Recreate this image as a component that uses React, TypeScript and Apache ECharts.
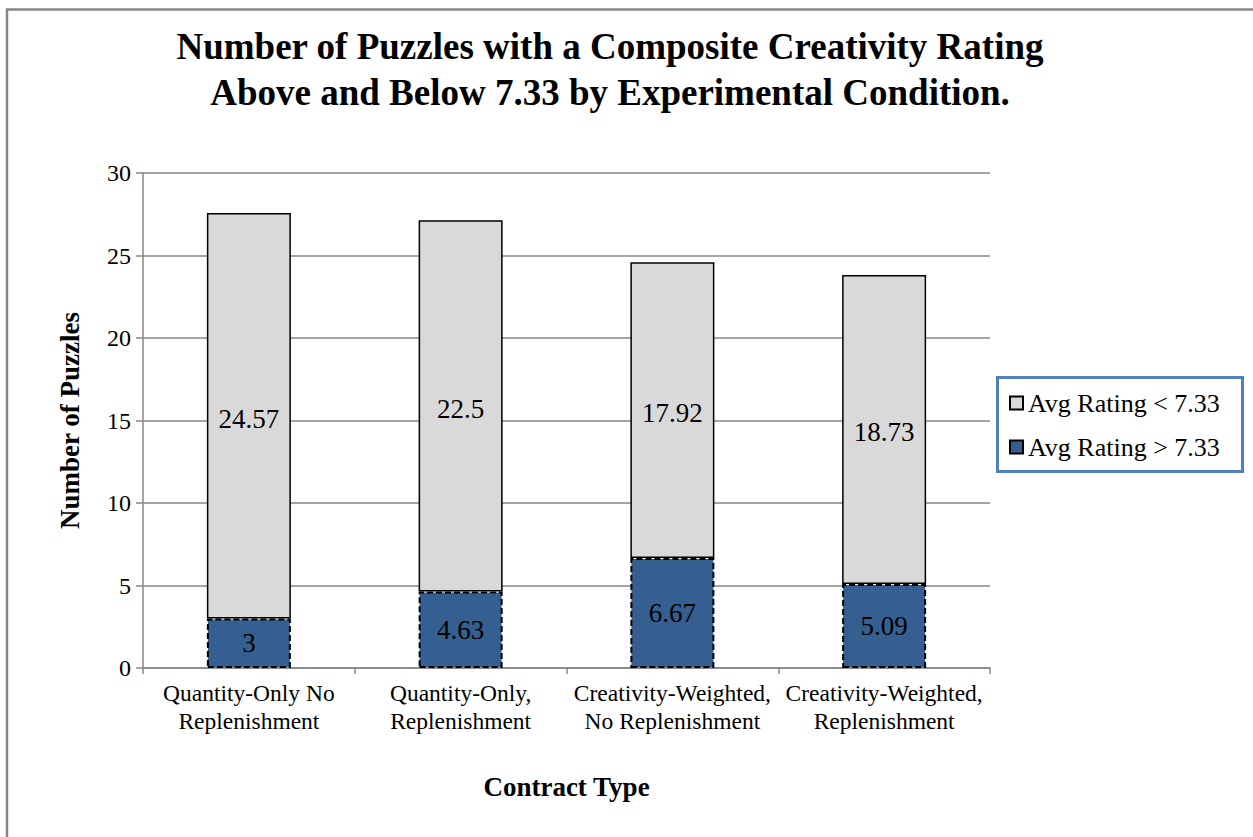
import React, { useEffect, useRef } from "react";
import * as echarts from "echarts";

const categories = [
  "Quantity-Only No\nReplenishment",
  "Quantity-Only,\nReplenishment",
  "Creativity-Weighted,\nNo Replenishment",
  "Creativity-Weighted,\nReplenishment",
];
const aboveValues = [3, 4.63, 6.67, 5.09];
const belowValues = [24.57, 22.5, 17.92, 18.73];
const aboveName = "Avg Rating > 7.33";
const belowName = "Avg Rating < 7.33";
const titleLines = [
  "Number of Puzzles with a Composite Creativity Rating",
  "Above and Below 7.33 by Experimental Condition.",
];

const FONT = "Liberation Serif";

export default function App() {
  const ref = useRef<HTMLDivElement>(null);
  useEffect(() => {
    if (!ref.current) return;
    const chart = echarts.init(ref.current, undefined, { renderer: "svg" });
    chart.setOption({
      animation: false,
      backgroundColor: "#ffffff",
      textStyle: { fontFamily: FONT, color: "#000" },
      graphic: [
        {
          type: "rect",
          shape: { x: 7, y: 9.5, width: 1300, height: 900 },
          style: { fill: "none", stroke: "#868686", lineWidth: 2.5 },
          z: 0,
        },
        {
          type: "text",
          x: 610,
          y: 23,
          style: {
            text: titleLines.join("\n"),
            fontFamily: FONT,
            fontSize: 37,
            fontWeight: "bold",
            lineHeight: 46,
            textAlign: "center",
            textVerticalAlign: "top",
            fill: "#000",
          },
        },
        {
          type: "rect",
          shape: { x: 997.5, y: 377.5, width: 245, height: 94 },
          style: { fill: "#fff", stroke: "#4f81bd", lineWidth: 3 },
          z: 1,
        },
      ],
      legend: {
        orient: "vertical",
        left: 1004,
        top: 385,
        itemGap: 18,
        itemWidth: 13,
        itemHeight: 13,
        icon: "rect",
        data: [belowName, aboveName],
        textStyle: { fontFamily: FONT, fontSize: 26, color: "#000" },
        z: 5,
      },
      grid: { left: 143, top: 173, width: 847, height: 495 },
      xAxis: {
        type: "category",
        data: categories,
        name: "Contract Type",
        nameLocation: "middle",
        nameGap: 105,
        nameTextStyle: { fontFamily: FONT, fontSize: 27, fontWeight: "bold", color: "#000" },
        axisLine: { lineStyle: { color: "#868686", width: 1.5 } },
        axisTick: { show: true, length: 6, interval: 0, alignWithLabel: false, lineStyle: { color: "#868686", width: 1.5 } },
        axisLabel: { interval: 0, fontFamily: FONT, fontSize: 23.5, lineHeight: 28, color: "#000", margin: 11 },
      },
      yAxis: {
        type: "value",
        min: 0,
        max: 30,
        interval: 5,
        name: "Number of Puzzles",
        nameLocation: "middle",
        nameGap: 60,
        nameTextStyle: { fontFamily: FONT, fontSize: 27, fontWeight: "bold", color: "#000" },
        axisLine: { show: true, lineStyle: { color: "#868686", width: 1.5 } },
        axisTick: { show: true, length: 7, lineStyle: { color: "#868686", width: 1.5 } },
        axisLabel: { fontFamily: FONT, fontSize: 24, color: "#000", margin: 12 },
        splitLine: { lineStyle: { color: "#868686", width: 1.5 } },
      },
      series: [
        {
          name: aboveName,
          type: "bar",
          stack: "total",
          barWidth: 84,
          data: aboveValues,
          itemStyle: { color: "#365f91", borderColor: "#000", borderWidth: 2, borderType: [6, 3] },
          label: { show: true, position: "inside", fontFamily: FONT, fontSize: 27, color: "#000" },
          z: 3,
        },
        {
          name: belowName,
          type: "bar",
          stack: "total",
          barWidth: 84,
          data: belowValues,
          itemStyle: { color: "#d9d9d9", borderColor: "#000", borderWidth: 1.5 },
          label: { show: true, position: "inside", fontFamily: FONT, fontSize: 27, color: "#000", offset: [0, 3] },
          z: 3,
        },
      ],
    });
    return () => chart.dispose();
  }, []);
  return (
    <div
      ref={ref}
      style={{ position: "absolute", left: 0, top: 0, width: 1253, height: 837 }}
    />
  );
}
